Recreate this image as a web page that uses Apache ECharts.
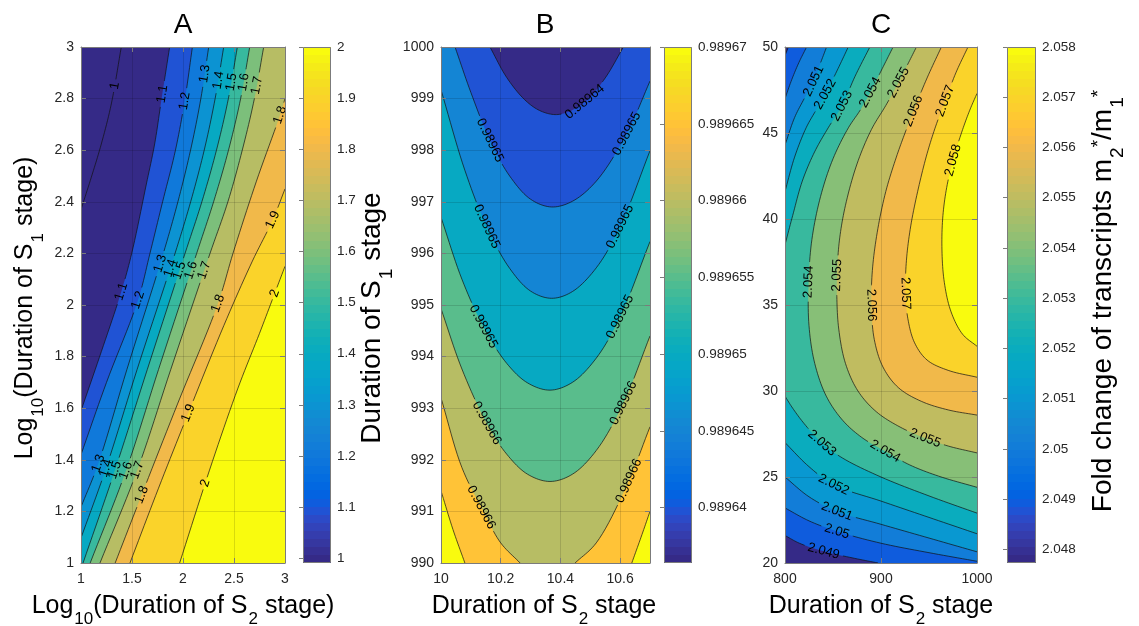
<!DOCTYPE html>
<html>
<head>
<meta charset="utf-8">
<title>Contour panels A B C</title>
<script src="https://cdn.jsdelivr.net/npm/echarts@6/dist/echarts.min.js"></script>
<style>html,body{margin:0;padding:0;background:#fff;}#chart{width:1139px;height:626px;}</style>
</head>
<body>
<div id="chart"></div>
<script>
// ================= DATA =================
// ---- Panel A ----
const aXTicks = [1, 1.5, 2, 2.5, 3];
const aXLabels = ['1', '1.5', '2', '2.5', '3'];
const aYTicks = [1, 1.2, 1.4, 1.6, 1.8, 2, 2.2, 2.4, 2.6, 2.8, 3];
const aYLabels = ['1', '1.2', '1.4', '1.6', '1.8', '2', '2.2', '2.4', '2.6', '2.8', '3'];
const aBarTicks = [1, 1.1, 1.2, 1.3, 1.4, 1.5, 1.6, 1.7, 1.8, 1.9, 2];
const aBarLabels = ['1', '1.1', '1.2', '1.3', '1.4', '1.5', '1.6', '1.7', '1.8', '1.9', '2'];
const aColorRange = [0.9908, 2];
const aLevels = [1, 1.1, 1.2, 1.3, 1.4, 1.5, 1.6, 1.7, 1.8, 1.9, 2];
const aLine100 = [[1, 2.37], [1.101, 2.495], [1.199, 2.624], [1.297, 2.779], [1.395, 3]];
const aLine110 = [[1, 1.59], [1.2, 1.82], [1.395, 2.052], [1.497, 2.2], [1.641, 2.469], [1.722, 2.624], [1.787, 2.792], [1.869, 3]];
const aLine120 = [[1, 1.42], [1.25, 1.70], [1.559, 2.019], [1.676, 2.2], [1.8, 2.4], [1.926, 2.6], [2.02, 2.8], [2.092, 3]];
const aLine130 = [[1, 1.217], [1.17, 1.386], [1.45, 1.75], [1.807, 2.2], [1.95, 2.4], [2.074, 2.6], [2.175, 2.8], [2.252, 3]];
const aLine140 = [[1, 1.097], [1.245, 1.367], [1.55, 1.75], [1.922, 2.2], [2.075, 2.4], [2.208, 2.6], [2.315, 2.8], [2.399, 3]];
const aLine150 = [[1.02, 1], [1.333, 1.36], [1.65, 1.75], [2.02, 2.2], [2.185, 2.4], [2.328, 2.6], [2.445, 2.8], [2.533, 3]];
const aLine160 = [[1.09, 1], [1.441, 1.358], [1.76, 1.75], [2.134, 2.2], [2.3, 2.4], [2.446, 2.6], [2.565, 2.8], [2.654, 3]];
const aLine170 = [[1.186, 1], [1.552, 1.36], [1.88, 1.75], [2.265, 2.2], [2.44, 2.4], [2.581, 2.6], [2.7, 2.8], [2.791, 3]];
const aLine180 = [[1.335, 1], [1.595, 1.264], [1.95, 1.62], [2.343, 2.006], [2.49, 2.2], [2.72, 2.48], [2.951, 2.736], [3, 2.8]];
const aLine190 = [[1.48, 1], [1.76, 1.29], [2.052, 1.581], [2.4, 1.92], [2.68, 2.17], [2.88, 2.33], [3, 2.45]];
const aLine200 = [[1.967, 1], [2.26, 1.36], [2.539, 1.678], [2.75, 1.89], [2.899, 2.045], [3, 2.15]];
const aLabels = [
  [1, 1.33, 2.85, '1'],
  [1.1, 1.80, 2.818, '1.1'], [1.1, 1.395, 2.052, '1.1'],
  [1.2, 2.02, 2.79, '1.2'], [1.2, 1.559, 2.019, '1.2'],
  [1.3, 2.229, 2.895, '1.3'], [1.3, 1.78, 2.16, '1.3'], [1.3, 1.17, 1.386, '1.3'],
  [1.4, 2.369, 2.87, '1.4'], [1.4, 1.89, 2.14, '1.4'], [1.4, 1.245, 1.367, '1.4'],
  [1.5, 2.49, 2.863, '1.5'], [1.5, 1.99, 2.13, '1.5'], [1.5, 1.333, 1.36, '1.5'],
  [1.6, 2.6, 2.863, '1.6'], [1.6, 2.11, 2.13, '1.6'], [1.6, 1.441, 1.358, '1.6'],
  [1.7, 2.74, 2.85, '1.7'], [1.7, 2.24, 2.13, '1.7'], [1.7, 1.552, 1.36, '1.7'],
  [1.8, 2.951, 2.736, '1.8'], [1.8, 2.343, 2.006, '1.8'], [1.8, 1.595, 1.264, '1.8'],
  [1.9, 2.88, 2.33, '1.9'], [1.9, 2.052, 1.581, '1.9'],
  [2, 2.899, 2.045, '2'], [2, 2.216, 1.309, '2']
];

// ---- Panel B ----
const bXTicks = [10, 10.2, 10.4, 10.6];
const bXLabels = ['10', '10.2', '10.4', '10.6'];
const bYTicks = [990, 991, 992, 993, 994, 995, 996, 997, 998, 999, 1000];
const bYLabels = ['990', '991', '992', '993', '994', '995', '996', '997', '998', '999', '1000'];
const bBarTicks = [0.98964, 0.989645, 0.98965, 0.989655, 0.98966, 0.989665, 0.98967];
const bBarLabels = ['0.98964', '0.989645', '0.98965', '0.989655', '0.98966', '0.989665', '0.98967'];
const bColorRange = [0.9896364, 0.98967];
const bLevels = [0.98964, 0.989645, 0.98965, 0.989655, 0.98966, 0.989665, 0.98967];
const bLine1 = [[10.164, 1000], [10.22, 999.41], [10.28, 998.98], [10.33, 998.77], [10.382, 998.69], [10.43, 998.75], [10.49, 998.98], [10.55, 999.4], [10.611, 1000]];
const bLine2 = [[10.047, 1000], [10.1, 999.12], [10.164, 998.19], [10.23, 997.5], [10.3, 997.05], [10.37, 996.9], [10.44, 997.01], [10.52, 997.4], [10.622, 998.32], [10.7, 999.34]];
const bLine3 = [[10, 999.17], [10.08, 997.61], [10.153, 996.52], [10.23, 995.71], [10.3, 995.27], [10.37, 995.13], [10.44, 995.26], [10.52, 995.72], [10.6, 996.52], [10.7, 997.99]];
const bLine4 = [[10, 996.7], [10.07, 995.5], [10.142, 994.58], [10.22, 993.87], [10.29, 993.49], [10.365, 993.35], [10.44, 993.5], [10.52, 993.97], [10.6, 994.77], [10.7, 996.23]];
const bLine5 = [[10, 994.93], [10.07, 993.76], [10.153, 992.71], [10.22, 992.11], [10.29, 991.72], [10.365, 991.58], [10.44, 991.72], [10.52, 992.18], [10.611, 993.1], [10.7, 994.4]];
const bLine6L = [[10, 993.2], [10.07, 991.85], [10.142, 991.0], [10.2, 990.39], [10.265, 990]];
const bLine6R = [[10.449, 990], [10.52, 990.39], [10.622, 991.5], [10.7, 992.64]];
const bLine7L = [[10, 991.4], [10.04, 990.65], [10.08, 990]];
const bLine7R = [[10.639, 990], [10.67, 990.5], [10.7, 991.0]];
const bLabels = [
  [0.98964, 10.477, 998.97, '0.98964'],
  [0.989645, 10.164, 998.19, '0.98965'], [0.989645, 10.622, 998.32, '0.98965'],
  [0.98965, 10.153, 996.52, '0.98965'], [0.98965, 10.6, 996.52, '0.98965'],
  [0.989655, 10.142, 994.58, '0.98965'], [0.989655, 10.6, 994.77, '0.98965'],
  [0.98966, 10.153, 992.71, '0.98966'], [0.98966, 10.611, 993.1, '0.98966'],
  [0.989665, 10.142, 991.1, '0.98966'], [0.989665, 10.622, 991.61, '0.98966']
];

// ---- Panel C ----
const cXTicks = [800, 900, 1000];
const cXLabels = ['800', '900', '1000'];
const cYTicks = [20, 25, 30, 35, 40, 45, 50];
const cYLabels = ['20', '25', '30', '35', '40', '45', '50'];
const cBarTicks = [2.048, 2.049, 2.05, 2.051, 2.052, 2.053, 2.054, 2.055, 2.056, 2.057, 2.058];
const cBarLabels = ['2.048', '2.049', '2.05', '2.051', '2.052', '2.053', '2.054', '2.055', '2.056', '2.057', '2.058'];
const cColorRange = [2.04773, 2.058];
const cLevels = [2.049, 2.05, 2.051, 2.052, 2.053, 2.054, 2.055, 2.056, 2.057, 2.058];
const cLine2049a = [[800, 49.5], [803.5, 50]];
const cLine2049b = [[897, 20], [870, 20.3], [840.2, 20.68], [815, 21.15], [800, 21.6]];
const cLine2050a = [[800, 47.0], [807, 48.1], [814.5, 49.1], [822.5, 50]];
const cLine2050b = [[1000, 20.1], [950, 20.6], [900, 21.15], [854.1, 21.84], [825, 22.45], [800, 23.2]];
const cLine2051a = [[800, 44.3], [810, 45.9], [820, 47.0], [829.8, 48.02], [836.5, 49.0], [843.3, 50]];
const cLine2051b = [[1000, 20.65], [950, 21.45], [900, 22.25], [854.1, 23.0], [825, 23.85], [800, 25.0]];
const cLine2052a = [[800, 41.6], [810, 43.6], [822, 45.3], [832, 46.3], [841.9, 47.25], [854, 48.6], [865.9, 50]];
const cLine2052b = [[1000, 21.7], [950, 22.65], [900, 23.6], [850.6, 24.55], [825, 25.6], [800, 27.0]];
const cLine2053a = [[800, 38.5], [808, 40.2], [818, 42.2], [830.8, 43.9], [845, 45.3], [859.3, 46.57], [873, 48.3], [888.4, 50]];
const cLine2053b = [[1000, 22.9], [950, 23.9], [900, 25.0], [860, 26.1], [838.5, 26.97], [820, 28.1], [808, 29.0], [800, 29.7]];
const cLine2054 = [[1000, 24.4], [960, 25.05], [930, 25.7], [904.4, 26.49], [880, 27.3], [860, 28.3], [843, 29.7], [831, 31.6], [825, 33.8], [824.6, 36.35], [828, 38.8], [837, 41.3], [850, 43.5], [866, 45.3], [878, 46.3], [888.8, 47.35], [900, 48.6], [912.6, 50]];
const cLine2055 = [[1000, 26.4], [970, 26.8], [946, 27.26], [920, 27.9], [895, 28.8], [876, 30.0], [863, 31.6], [856, 33.6], [854, 35.5], [854.5, 37.2], [857, 38.9], [863, 40.8], [875, 43.2], [890, 45.2], [905, 46.6], [918.2, 47.93], [927, 48.9], [936.9, 50]];
const cLine2056 = [[1000, 28.6], [970, 28.9], [942, 29.4], [918, 30.2], [902, 31.4], [893, 33.0], [890, 35.0], [891, 37.0], [896, 39.2], [905, 41.6], [916, 43.6], [925, 45.0], [933.8, 46.28], [948, 48.2], [962.9, 50]];
const cLine2057 = [[1000, 30.8], [970, 31.2], [948, 31.8], [935, 32.8], [928, 34.2], [925.5, 35.8], [926.5, 37.6], [931, 39.6], [939, 41.8], [948, 43.8], [957, 45.4], [966.8, 46.86], [978, 48.5], [990.6, 50]];
const cLine2058 = [[1000, 32.6], [985, 33.3], [973, 34.6], [966, 36.3], [963.5, 38.2], [964.5, 40.2], [969, 42.0], [976, 43.6], [985, 45.2], [993, 46.4], [1000, 47.3]];
const cLabels = [
  [2.049, 840.2, 20.68, '2.049'],
  [2.05, 854.1, 21.84, '2.05'],
  [2.051, 829.8, 48.02, '2.051'], [2.051, 854.1, 23.0, '2.051'],
  [2.052, 841.9, 47.25, '2.052'], [2.052, 850.6, 24.55, '2.052'],
  [2.053, 859.3, 46.57, '2.053'], [2.053, 838.5, 26.97, '2.053'],
  [2.054, 888.8, 47.35, '2.054'], [2.054, 824.6, 36.35, '2.054'], [2.054, 904.4, 26.49, '2.054'],
  [2.055, 918.2, 47.93, '2.055'], [2.055, 854.1, 36.73, '2.055'], [2.055, 946, 27.26, '2.055'],
  [2.056, 933.8, 46.28, '2.056'], [2.056, 890.5, 34.99, '2.056'],
  [2.057, 966.8, 46.86, '2.057'], [2.057, 925.2, 35.67, '2.057'],
  [2.058, 976, 43.4, '2.058']
];

// ================= STYLE / HELPERS =================
const FONT = '"Liberation Sans", Arial, Helvetica, sans-serif';
const AX_COLOR = '#7b7b7b';
const TXT_COLOR = '#262626';
const LABEL_FS = 13;
const PARULA = [
[0.2081,0.1663,0.5292],[0.2116,0.1898,0.5777],[0.2123,0.2138,0.6270],[0.2081,0.2386,0.6771],
[0.1959,0.2645,0.7279],[0.1707,0.2919,0.7792],[0.1253,0.3242,0.8303],[0.0591,0.3598,0.8683],
[0.0117,0.3875,0.8820],[0.0060,0.4086,0.8828],[0.0165,0.4266,0.8786],[0.0329,0.4430,0.8720],
[0.0498,0.4586,0.8641],[0.0629,0.4737,0.8554],[0.0723,0.4887,0.8467],[0.0779,0.5040,0.8384],
[0.0793,0.5200,0.8312],[0.0749,0.5375,0.8263],[0.0641,0.5570,0.8240],[0.0488,0.5772,0.8228],
[0.0343,0.5966,0.8199],[0.0265,0.6137,0.8135],[0.0239,0.6287,0.8038],[0.0231,0.6418,0.7913],
[0.0228,0.6535,0.7768],[0.0267,0.6642,0.7607],[0.0384,0.6743,0.7436],[0.0590,0.6838,0.7254],
[0.0843,0.6928,0.7062],[0.1133,0.7015,0.6859],[0.1453,0.7098,0.6646],[0.1801,0.7177,0.6424],
[0.2178,0.7250,0.6193],[0.2586,0.7317,0.5954],[0.3022,0.7376,0.5712],[0.3482,0.7424,0.5473],
[0.3953,0.7459,0.5244],[0.4420,0.7481,0.5033],[0.4871,0.7491,0.4840],[0.5300,0.7491,0.4661],
[0.5709,0.7485,0.4494],[0.6099,0.7473,0.4337],[0.6473,0.7456,0.4188],[0.6834,0.7435,0.4044],
[0.7184,0.7411,0.3905],[0.7525,0.7384,0.3768],[0.7858,0.7356,0.3633],[0.8185,0.7327,0.3498],
[0.8507,0.7299,0.3360],[0.8824,0.7274,0.3217],[0.9139,0.7258,0.3063],[0.9450,0.7261,0.2886],
[0.9739,0.7314,0.2666],[0.9938,0.7455,0.2403],[0.9990,0.7653,0.2164],[0.9955,0.7861,0.1967],
[0.9880,0.8066,0.1794],[0.9789,0.8271,0.1633],[0.9697,0.8481,0.1475],[0.9626,0.8705,0.1309],
[0.9589,0.8949,0.1132],[0.9598,0.9218,0.0948],[0.9661,0.9514,0.0755],[0.9763,0.9831,0.0538]];

function rgbOf(c) { return 'rgb(' + Math.round(c[0]*255) + ',' + Math.round(c[1]*255) + ',' + Math.round(c[2]*255) + ')'; }
function levelColor(v, cr) {
  let i = Math.floor((v - cr[0]) / (cr[1] - cr[0]) * 64 + 1e-9);
  if (i < 0) i = 0; if (i > 63) i = 63;
  return rgbOf(PARULA[i]);
}
function fmtLookup(vals, labels) {
  return function (v) {
    for (let i = 0; i < vals.length; i++) {
      if (Math.abs(v - vals[i]) < 1e-10 * Math.max(1, Math.abs(v))) return labels[i];
    }
    return '';
  };
}
// centripetal Catmull-Rom (display smoothing only, in pixel space)
function crSeg(P0, P1, P2, P3, n) {
  const tj = (ti, a, b) => ti + Math.pow(Math.hypot(b[0]-a[0], b[1]-a[1]), 0.5) + 1e-6;
  const t0 = 0, t1 = tj(t0, P0, P1), t2 = tj(t1, P1, P2), t3 = tj(t2, P2, P3);
  const res = [];
  for (let s = 1; s <= n; s++) {
    const t = t1 + (t2 - t1) * s / n;
    const L = (A, B, ta, tb) => [((tb-t)*A[0] + (t-ta)*B[0]) / (tb-ta), ((tb-t)*A[1] + (t-ta)*B[1]) / (tb-ta)];
    const A1 = L(P0, P1, t0, t1), A2 = L(P1, P2, t1, t2), A3 = L(P2, P3, t2, t3);
    const B1 = L(A1, A2, t0, t2), B2 = L(A2, A3, t1, t3);
    res.push(L(B1, B2, t1, t2));
  }
  return res;
}
function smoothPx(pts) {
  const n = pts.length;
  if (n < 3) return pts.slice();
  const ext = [[2*pts[0][0]-pts[1][0], 2*pts[0][1]-pts[1][1]]].concat(pts, [[2*pts[n-1][0]-pts[n-2][0], 2*pts[n-1][1]-pts[n-2][1]]]);
  const out = [pts[0]];
  for (let i = 1; i < ext.length - 2; i++) out.push.apply(out, crSeg(ext[i-1], ext[i], ext[i+1], ext[i+2], 10));
  return out;
}
function pointAt(dp, cum, s) {
  for (let i = 0; i < dp.length - 1; i++) {
    if (cum[i+1] >= s) {
      const d = cum[i+1] - cum[i] || 1;
      const u = Math.max(0, Math.min(1, (s - cum[i]) / d));
      return [dp[i][0] + u*(dp[i+1][0]-dp[i][0]), dp[i][1] + u*(dp[i+1][1]-dp[i][1])];
    }
  }
  return dp[dp.length-1];
}

function contourRenderer(P) {
  return function (params, api) {
    const cs = params.coordSys;
    const xr = P.xr, yr = P.yr;
    const corners = [[xr[0], yr[0]], [xr[0], yr[1]], [xr[1], yr[1]], [xr[1], yr[0]]];
    const tOf = (p) => {
      const fx = (p[0]-xr[0])/(xr[1]-xr[0]), fy = (p[1]-yr[0])/(yr[1]-yr[0]);
      const dl = Math.abs(fx), dr = Math.abs(1-fx), db = Math.abs(fy), dt = Math.abs(1-fy);
      const m = Math.min(dl, dr, db, dt);
      if (m === dl) return fy;
      if (m === dt) return 1 + fx;
      if (m === dr) return 2 + (1 - fy);
      return 3 + (1 - fx);
    };
    const fills = [], lines = [], texts = [];
    fills.push({type: 'rect', shape: {x: cs.x, y: cs.y, width: cs.width, height: cs.height}, style: {fill: levelColor(P.cr[0], P.cr)}});
    P.levels.forEach((L, li) => {
      const pieces = P.pieces[li];
      const dense = pieces.map(pc => smoothPx(pc.map(p => api.coord(p))));
      // filled region (value >= L) built from open contour pieces + boundary walk
      const info = pieces.map((pc, k) => ({k: k, ts: tOf(pc[0]), te: tOf(pc[pc.length-1]), used: false}));
      info.forEach(st => {
        if (st.used) return;
        const ring = [];
        let cur = st;
        for (let g = 0; g < 20; g++) {
          cur.used = true;
          dense[cur.k].forEach(p => ring.push(p));
          let best = null, bd = Infinity;
          info.forEach(q => {
            if (q.used && q !== st) return;
            let d = q.ts - cur.te;
            while (d <= 1e-9) d += 4;
            while (d > 4) d -= 4;
            if (d < bd) { bd = d; best = q; }
          });
          let k = Math.floor(cur.te + 1e-9) + 1;
          while (k < cur.te + bd - 1e-9) { ring.push(api.coord(corners[k % 4])); k++; }
          if (!best || best === st) break;
          cur = best;
        }
        fills.push({type: 'polygon', shape: {points: ring}, style: {fill: levelColor(L, P.cr)}});
      });
      // contour lines with gaps for labels
      const cuts = dense.map(() => []);
      P.labels.forEach(lb => {
        if (Math.abs(lb[0] - L) > 1e-12) return;
        const q = api.coord([lb[1], lb[2]]);
        let best = null;
        dense.forEach((dp, k) => {
          let s = 0;
          for (let i = 0; i < dp.length - 1; i++) {
            const a = dp[i], b = dp[i+1];
            const dx = b[0]-a[0], dy = b[1]-a[1], len = Math.hypot(dx, dy);
            if (len < 1e-9) continue;
            let u = ((q[0]-a[0])*dx + (q[1]-a[1])*dy) / (len*len);
            u = Math.max(0, Math.min(1, u));
            const X = a[0] + u*dx, Y = a[1] + u*dy, d = Math.hypot(q[0]-X, q[1]-Y);
            if (!best || d < best.d) best = {d: d, k: k, s: s + u*len, x: X, y: Y, ang: Math.atan2(dy, dx)};
            s += len;
          }
        });
        if (!best || best.d > 30) return;
        const w = lb[3].length * LABEL_FS * 0.52;
        cuts[best.k].push([best.s - w/2 - 3, best.s + w/2 + 3]);
        let ang = best.ang;
        if (ang > Math.PI/2) ang -= Math.PI;
        if (ang <= -Math.PI/2) ang += Math.PI;
        texts.push({type: 'text', x: best.x, y: best.y, rotation: -ang,
          style: {text: lb[3], fill: '#000', fontSize: LABEL_FS, fontFamily: FONT, align: 'center', verticalAlign: 'middle'}});
      });
      dense.forEach((dp, k) => {
        const cum = [0];
        for (let i = 1; i < dp.length; i++) cum.push(cum[i-1] + Math.hypot(dp[i][0]-dp[i-1][0], dp[i][1]-dp[i-1][1]));
        const total = cum[cum.length-1];
        const cs2 = cuts[k].sort((a, b) => a[0] - b[0]);
        const keep = [];
        let s0 = 0;
        cs2.forEach(c => { if (c[0] > s0) keep.push([s0, c[0]]); s0 = Math.max(s0, c[1]); });
        if (s0 < total) keep.push([s0, total]);
        keep.forEach(iv => {
          const pts = [pointAt(dp, cum, iv[0])];
          for (let i = 0; i < dp.length; i++) if (cum[i] > iv[0] && cum[i] < iv[1]) pts.push(dp[i]);
          pts.push(pointAt(dp, cum, iv[1]));
          lines.push({type: 'polyline', shape: {points: pts}, style: {stroke: '#111', lineWidth: 0.7, fill: 'none'}});
        });
      });
    });
    return {type: 'group', clipPath: {type: 'rect', shape: {x: cs.x, y: cs.y, width: cs.width, height: cs.height}},
      children: fills.concat(lines, texts)};
  };
}

function colorbarRenderer(cr) {
  return function (params, api) {
    const cs = params.coordSys;
    const stops = [];
    for (let i = 0; i < 64; i++) {
      const col = rgbOf(PARULA[i]);
      stops.push({offset: i/64, color: col}, {offset: (i+1)/64, color: col});
    }
    return {type: 'group', children: [
      {type: 'rect', shape: {x: cs.x, y: cs.y, width: cs.width, height: cs.height},
        style: {fill: new echarts.graphic.LinearGradient(0, 1, 0, 0, stops)}},
      {type: 'rect', shape: {x: cs.x + 0.5, y: cs.y + 0.5, width: cs.width - 1, height: cs.height - 1},
        style: {fill: 'none', stroke: AX_COLOR, lineWidth: 1}}
    ]};
  };
}

const panelA = {xr: [1, 3], yr: [1, 3], cr: aColorRange, levels: aLevels,
  pieces: [[aLine100], [aLine110], [aLine120], [aLine130], [aLine140], [aLine150], [aLine160], [aLine170], [aLine180], [aLine190], [aLine200]],
  labels: aLabels};
const panelB = {xr: [10, 10.7], yr: [990, 1000], cr: bColorRange, levels: bLevels,
  pieces: [[bLine1], [bLine2], [bLine3], [bLine4], [bLine5], [bLine6L, bLine6R], [bLine7L, bLine7R]],
  labels: bLabels};
const panelC = {xr: [800, 1000], yr: [20, 50], cr: cColorRange, levels: cLevels,
  pieces: [[cLine2049a, cLine2049b], [cLine2050a, cLine2050b], [cLine2051a, cLine2051b], [cLine2052a, cLine2052b],
    [cLine2053a, cLine2053b], [cLine2054], [cLine2055], [cLine2056], [cLine2057], [cLine2058]],
  labels: cLabels};

// ================= AXES =================
function tickStyle(ticks, len) {
  return {show: true, inside: true, length: len, customValues: ticks, lineStyle: {color: AX_COLOR, width: 1}};
}
function lineStyle() { return {show: true, onZero: false, lineStyle: {color: AX_COLOR, width: 1}}; }
function mainX(gi, range, ticks, labels) {
  return [
    {gridIndex: gi, type: 'value', min: range[0], max: range[1], position: 'bottom', z: 5,
      axisLine: lineStyle(), axisTick: tickStyle(ticks, 5),
      axisLabel: {show: true, customValues: ticks, formatter: fmtLookup(ticks, labels), color: TXT_COLOR, fontSize: 14, fontFamily: FONT, margin: 9},
      splitLine: {show: true, lineStyle: {color: 'rgba(0,0,0,0.13)', width: 1}}},
    {gridIndex: gi, type: 'value', min: range[0], max: range[1], position: 'top', z: 5,
      axisLine: lineStyle(), axisTick: tickStyle(ticks, 5), axisLabel: {show: false}, splitLine: {show: false}}
  ];
}
function mainY(gi, range, ticks, labels) {
  return [
    {gridIndex: gi, type: 'value', min: range[0], max: range[1], position: 'left', z: 5,
      axisLine: lineStyle(), axisTick: tickStyle(ticks, 5),
      axisLabel: {show: true, customValues: ticks, formatter: fmtLookup(ticks, labels), color: TXT_COLOR, fontSize: 14, fontFamily: FONT, margin: 7},
      splitLine: {show: true, lineStyle: {color: 'rgba(0,0,0,0.13)', width: 1}}},
    {gridIndex: gi, type: 'value', min: range[0], max: range[1], position: 'right', z: 5,
      axisLine: lineStyle(), axisTick: tickStyle(ticks, 5), axisLabel: {show: false}, splitLine: {show: false}}
  ];
}
function barX(gi) { return {gridIndex: gi, type: 'value', min: 0, max: 1, show: false}; }
function barY(gi, cr, ticks, labels) {
  return {gridIndex: gi, type: 'value', min: cr[0], max: cr[1], position: 'right', z: 5,
    axisLine: {show: false}, axisTick: tickStyle(ticks, 4),
    axisLabel: {show: true, customValues: ticks, formatter: fmtLookup(ticks, labels), color: TXT_COLOR, fontSize: 13.5, fontFamily: FONT, margin: 6},
    splitLine: {show: false}};
}

const grids = [
  {left: 81, top: 47, width: 204, height: 516},
  {left: 441, top: 47, width: 209, height: 516},
  {left: 785, top: 47, width: 192, height: 516},
  {left: 303, top: 47, width: 28, height: 516},
  {left: 664, top: 47, width: 28, height: 516},
  {left: 1007, top: 47, width: 29, height: 516}
];

const xAxes = [].concat(mainX(0, panelA.xr, aXTicks, aXLabels), mainX(1, panelB.xr, bXTicks, bXLabels), mainX(2, panelC.xr, cXTicks, cXLabels), [barX(3), barX(4), barX(5)]);
const yAxes = [].concat(mainY(0, panelA.yr, aYTicks, aYLabels), mainY(1, panelB.yr, bYTicks, bYLabels), mainY(2, panelC.yr, cYTicks, cYLabels),
  [barY(3, aColorRange, aBarTicks, aBarLabels), barY(4, bColorRange, bBarTicks, bBarLabels), barY(5, cColorRange, cBarTicks, cBarLabels)]);

const series = [
  {type: 'custom', xAxisIndex: 0, yAxisIndex: 0, data: [[1, 1]], renderItem: contourRenderer(panelA), silent: true, animation: false},
  {type: 'custom', xAxisIndex: 2, yAxisIndex: 2, data: [[10, 990]], renderItem: contourRenderer(panelB), silent: true, animation: false},
  {type: 'custom', xAxisIndex: 4, yAxisIndex: 4, data: [[800, 20]], renderItem: contourRenderer(panelC), silent: true, animation: false},
  {type: 'custom', xAxisIndex: 6, yAxisIndex: 6, data: [[0, aColorRange[0]]], renderItem: colorbarRenderer(aColorRange), silent: true, animation: false},
  {type: 'custom', xAxisIndex: 7, yAxisIndex: 7, data: [[0, bColorRange[0]]], renderItem: colorbarRenderer(bColorRange), silent: true, animation: false},
  {type: 'custom', xAxisIndex: 8, yAxisIndex: 8, data: [[0, cColorRange[0]]], renderItem: colorbarRenderer(cColorRange), silent: true, animation: false}
];

function richSet(fs) {
  const sub = Math.round(fs * 0.68);
  return {
    n: {fontSize: fs, fontFamily: FONT, lineHeight: Math.round(fs * 1.2), verticalAlign: 'top', fill: '#000'},
    s: {fontSize: sub, fontFamily: FONT, lineHeight: sub, verticalAlign: 'top', padding: [Math.round(fs * 0.68), 0, 0, 1], fill: '#000'},
    p: {fontSize: sub, fontFamily: FONT, lineHeight: sub, verticalAlign: 'top', padding: [0, 0, 0, 0], fill: '#000'}
  };
}
const RICH_AXIS = richSet(25);
const RICH_BAR = richSet(28);
function rtext(x, y, text, rot, rich) {
  return {type: 'text', x: x, y: y, rotation: rot || 0, silent: true,
    style: {text: text, rich: rich || RICH_AXIS, align: 'center', verticalAlign: 'middle', fill: '#000'}};
}
function title(x, text) {
  return {type: 'text', x: x, y: 25, silent: true,
    style: {text: text, fontSize: 28, fontFamily: FONT, fill: '#000', align: 'center', verticalAlign: 'middle'}};
}
const graphics = [
  title(183, 'A'), title(545, 'B'), title(881, 'C'),
  rtext(183, 609, '{n|Log}{s|10}{n|(Duration of S}{s|2}{n| stage)}'),
  rtext(544, 609, '{n|Duration of S}{s|2}{n| stage}'),
  rtext(881, 609, '{n|Duration of S}{s|2}{n| stage}'),
  rtext(28, 308, '{n|Log}{s|10}{n|(Duration of S}{s|1}{n| stage)}', Math.PI/2),
  rtext(375, 318, '{n|Duration of S}{s|1}{n| stage}', Math.PI/2, RICH_BAR),
  rtext(1106, 301, '{n|Fold change of transcripts m}{s|2}{p|*}{n|/m}{s|1}{p|*}', Math.PI/2, RICH_BAR)
];

const chart = echarts.init(document.getElementById('chart'), null, {renderer: 'canvas'});
chart.setOption({
  backgroundColor: '#ffffff',
  animation: false,
  grid: grids,
  xAxis: xAxes,
  yAxis: yAxes,
  series: series,
  graphic: graphics
});
</script>
</body>
</html>
